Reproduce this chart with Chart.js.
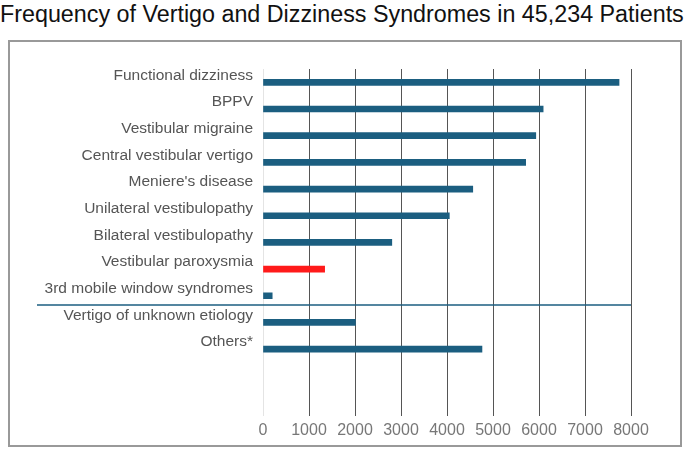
<!DOCTYPE html>
<html>
<head>
<meta charset="utf-8">
<script src="https://cdn.jsdelivr.net/npm/chart.js@4"></script>
<style>
  body { margin: 0; background: #fff; font-family: "Liberation Sans", Arial, sans-serif; }
  #title { position: absolute; left: 0; top: 1px; font-size: 23.3px; color: #111; white-space: nowrap; }
  #box { position: absolute; left: 8px; top: 40px; width: 670px; height: 403px; border: 2px solid #999; }
</style>
</head>
<body>
<div id="title">Frequency of Vertigo and Dizziness Syndromes in 45,234 Patients</div>
<div id="box"><canvas id="c"></canvas></div>
<script>
// categories, top to bottom (two blank rows leave the empty space at the bottom)
const categories = [
  'Functional dizziness', 'BPPV', 'Vestibular migraine', 'Central vestibular vertigo',
  "Meniere's disease", 'Unilateral vestibulopathy', 'Bilateral vestibulopathy',
  'Vestibular paroxysmia', '3rd mobile window syndromes',
  'Vertigo of unknown etiology', 'Others*', '', ''
];
const patients = [7740, 6090, 5930, 5710, 4560, 4050, 2800, 1340, 200, 2010, 4760, null, null];
const xTicks = [0, 1000, 2000, 3000, 4000, 5000, 6000, 7000, 8000];

const barColors = categories.map(c => c === 'Vestibular paroxysmia' ? '#ff1a1a' : '#1b5e80');

// line separating the first nine syndromes from the rest
const separator = {
  id: 'separator',
  afterDatasetsDraw(chart) {
    const y = chart.scales.y, x = chart.scales.x, ctx = chart.ctx;
    const py = (y.getPixelForValue(8) + y.getPixelForValue(9)) / 2 - 4;
    ctx.save();
    ctx.strokeStyle = '#1b5e80';
    ctx.lineWidth = 1.5;
    ctx.beginPath();
    ctx.moveTo(27, py);
    ctx.lineTo(x.getPixelForValue(8000), py);
    ctx.stroke();
    ctx.restore();
  }
};

new Chart(document.getElementById('c'), {
  type: 'bar',
  data: {
    labels: categories,
    datasets: [{
      data: patients,
      backgroundColor: barColors,
      barThickness: 6,
      categoryPercentage: 1
    }]
  },
  options: {
    indexAxis: 'y',
    responsive: true,
    maintainAspectRatio: false,
    animation: false,
    layout: { padding: { left: 0, right: 49, top: 27, bottom: 0 } },
    plugins: { legend: { display: false }, tooltip: { enabled: false } },
    scales: {
      x: {
        min: 0, max: 8000,
        afterBuildTicks: s => { s.ticks = xTicks.map(v => ({ value: v })); },
        grid: {
          color: ctx => ctx.tick && ctx.tick.value === 0 ? '#e4e4e4' : '#555',
          lineWidth: 1, drawTicks: false
        },
        border: { display: false },
        ticks: { color: '#777', font: { size: 16 }, padding: 5, callback: v => String(v) }
      },
      y: {
        afterFit: s => { s.width = 253; },
        grid: { display: false, drawTicks: false },
        border: { display: false },
        ticks: { color: '#555', font: { size: 15.5 }, labelOffset: -7, padding: 10, autoSkip: false }
      }
    }
  },
  plugins: [separator]
});
</script>
</body>
</html>
